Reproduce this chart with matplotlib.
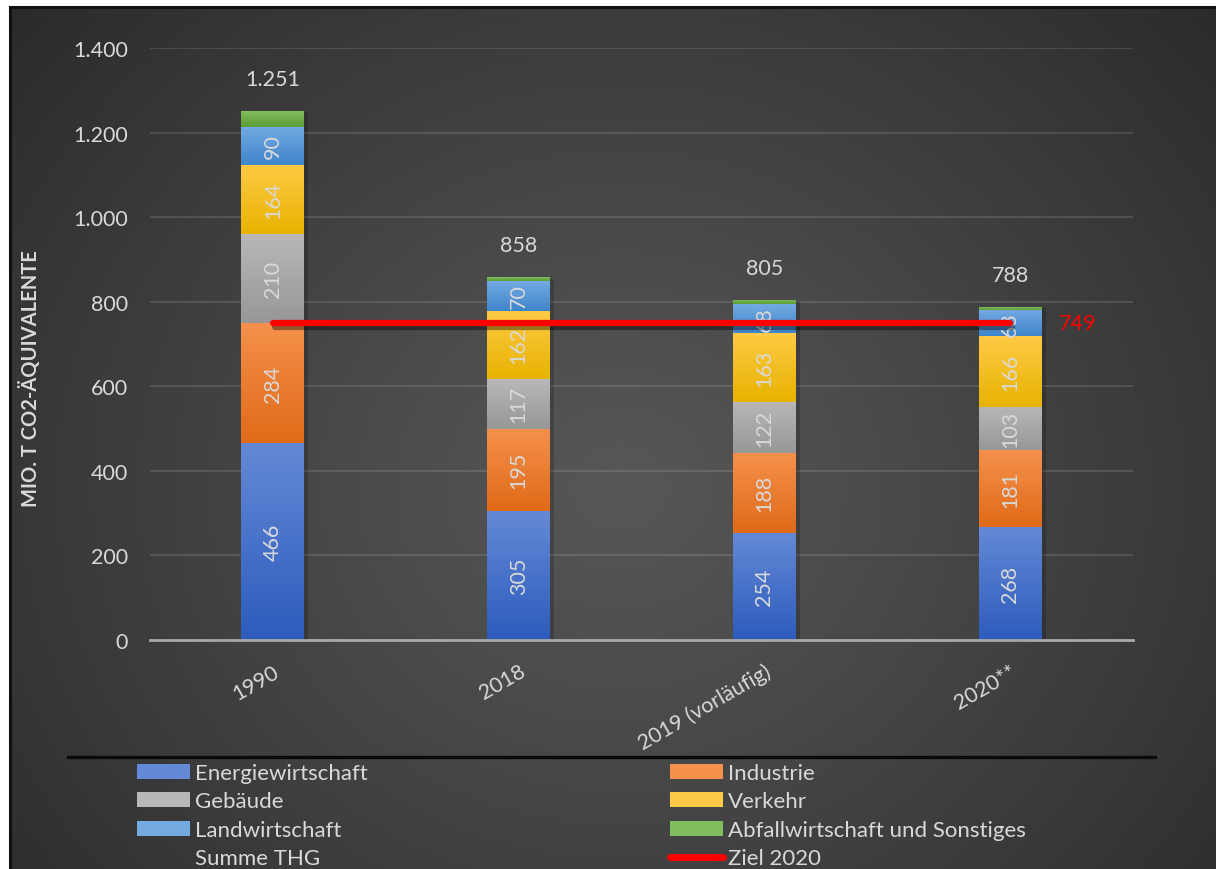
import numpy as np
import matplotlib.pyplot as plt
from matplotlib.colors import LinearSegmentedColormap, to_rgb
from matplotlib.lines import Line2D
from matplotlib.patches import Patch
import matplotlib.patheffects as pe
from matplotlib.ticker import FuncFormatter, MultipleLocator

plt.rcParams['font.family'] = ['Lato', 'DejaVu Sans']

# ---- data (Mio. t CO2-Äquivalente) ----
years = ['1990', '2018', '2019 (vorläufig)', '2020**']
energiewirtschaft = [466, 305, 254, 268]
industrie = [284, 195, 188, 181]
gebaeude = [210, 117, 122, 103]
verkehr = [164, 162, 163, 166]
landwirtschaft = [90, 70, 68, 63]
abfall_sonstiges = [37, 9, 10, 7]
summe_thg = [1251, 858, 805, 788]
ziel_2020 = 749

sector_names = ['Energiewirtschaft', 'Industrie', 'Gebäude', 'Verkehr',
                'Landwirtschaft', 'Abfallwirtschaft und Sonstiges']
sector_values = [energiewirtschaft, industrie, gebaeude, verkehr,
                 landwirtschaft, abfall_sonstiges]
# (top colour, bottom colour) of each segment's vertical gradient
sector_colors = [('#6489d6', '#2d5cbd'),
                 ('#f5914c', '#e06a18'),
                 ('#b8b8b8', '#979797'),
                 ('#ffca45', '#e7b300'),
                 ('#74aae2', '#3f85cb'),
                 ('#80bd5c', '#5c9d37')]
show_segment_label = [True, True, True, True, True, False]

TXT = '#d9d9d9'
FS = 15.5
W, H = 1216, 870
fig = plt.figure(figsize=(W / 100, H / 100), dpi=100, facecolor='white')

# ---- dark radial background panel ----
bg = fig.add_axes([10 / W, 0, 1 - 10 / W, 1 - 8 / H], zorder=-5)
ph, pw = 862, 1206
yy, xx = np.mgrid[0:ph, 0:pw]
r = np.hypot((xx - 610) / 1.0, (yy - 480) / 0.9) / 820
r = np.clip(r, 0, 1) ** 1.1
c_center, c_edge = np.array(to_rgb('#575757')), np.array(to_rgb('#2a2a2a'))
img = c_center[None, None, :] + (c_edge - c_center)[None, None, :] * r[..., None]
bg.imshow(img, extent=[0, 1, 0, 1], origin='upper', aspect='auto')
bg.set_xlim(0, 1)
bg.set_ylim(0, 1)
bg.set_xticks([])
bg.set_yticks([])
for side in ['right', 'bottom']:
    bg.spines[side].set_visible(False)
for side in ['top', 'left']:
    bg.spines[side].set_color('#111111')
    bg.spines[side].set_linewidth(2.2)

# ---- main chart ----
ax = fig.add_axes([150 / W, 1 - 641 / H, 983 / W, (641 - 49) / H])
ax.patch.set_alpha(0)
x = np.arange(len(years))
width = 0.256

# soft drop shadow behind each column
ax.bar(x, summe_thg, width, color='#333333', linewidth=0, zorder=2,
       path_effects=[pe.SimplePatchShadow(offset=(3, -1), shadow_rgbFace='black', alpha=0.18),
                     pe.Normal()])

grad = np.linspace(0, 1, 128).reshape(-1, 1)
bottom = np.zeros(len(years))
for name, vals, (ctop, cbot), lab in zip(sector_names, sector_values,
                                         sector_colors, show_segment_label):
    vals = np.array(vals, dtype=float)
    bars = ax.bar(x, vals, width, bottom=bottom, color=ctop, linewidth=0,
                  zorder=3, label=name)
    cmap = LinearSegmentedColormap.from_list(name, [ctop, cbot])
    for p in bars.patches:
        x0, y0 = p.get_x(), p.get_y()
        im = ax.imshow(grad, cmap=cmap, aspect='auto', origin='upper',
                       extent=[x0, x0 + p.get_width(), y0, y0 + p.get_height()],
                       zorder=3.1, interpolation='bilinear')
        im.set_clip_path(p)
    if lab:
        for xi, b, v in zip(x, bottom, vals):
            ax.text(xi, b + v / 2, f'{int(v)}', rotation=90, ha='center',
                    va='center', color=TXT, fontsize=FS, zorder=5)
    bottom += vals

def de_thousands(v):
    return f'{int(v):,}'.replace(',', '.')

for xi, s in zip(x, summe_thg):
    ax.annotate(de_thousands(s), (xi, s), xytext=(0, 23),
                textcoords='offset points', ha='center', va='center',
                color=TXT, fontsize=FS)

# target line for 2020
ax.plot([x[0], x[-1]], [ziel_2020, ziel_2020], color='red', lw=4.5,
        solid_capstyle='round', zorder=6,
        path_effects=[pe.SimpleLineShadow(offset=(1.5, -2.5), alpha=0.4),
                      pe.Normal()])
ax.annotate(f'{ziel_2020}', (x[-1], ziel_2020), xytext=(35, 0),
            textcoords='offset points', ha='left', va='center',
            color='red', fontsize=FS)

ax.set_xlim(-0.5, len(years) - 0.5)
ax.set_ylim(0, 1400)
ax.yaxis.set_major_locator(MultipleLocator(200))
ax.yaxis.set_major_formatter(FuncFormatter(lambda v, _: de_thousands(v)))
ax.yaxis.grid(True, color='white', alpha=0.12, lw=1.5, zorder=0)
ax.set_axisbelow(True)
for side in ['top', 'right', 'left']:
    ax.spines[side].set_visible(False)
ax.spines['bottom'].set_color('#a8a8a8')
ax.spines['bottom'].set_linewidth(2)
ax.spines['bottom'].set_zorder(4)

ax.tick_params(axis='y', length=0, pad=16, labelsize=FS, labelcolor=TXT)
ax.set_xticks(x)
ax.set_xticklabels(years)
ax.tick_params(axis='x', length=0, pad=15, labelsize=FS, labelcolor=TXT)
for t in ax.get_xticklabels():
    t.set_rotation(30)
    t.set_ha('right')
    t.set_va('top')
    t.set_rotation_mode('anchor')

fig.text(30 / W, 1 - 379 / H, 'MIO. T CO2-ÄQUIVALENTE', rotation=90,
         ha='center', va='center', fontsize=14.5, fontweight='bold', color=TXT)

# separator above the legend
fig.add_artist(Line2D([68 / W, 1155 / W], [1 - 758 / H, 1 - 758 / H],
                      color='#0a0a0a', lw=2.4))

def patch(i):
    return Patch(facecolor=sector_colors[i][0], edgecolor='none')

legend_kw = dict(loc='upper left', frameon=False, fontsize=16, labelcolor=TXT,
                 handlelength=2.4, handleheight=0.65, handletextpad=0.2,
                 labelspacing=0.38, borderpad=0, borderaxespad=0)
fig.legend([patch(0), patch(2), patch(4), Line2D([], [], color='none')],
           [sector_names[0], sector_names[2], sector_names[4], 'Summe THG'],
           bbox_to_anchor=(137 / W, 1 - 764 / H), **legend_kw)
fig.legend([patch(1), patch(3), patch(5),
            Line2D([], [], color='red', lw=5, solid_capstyle='round')],
           [sector_names[1], sector_names[3], sector_names[5], 'Ziel 2020'],
           bbox_to_anchor=(670 / W, 1 - 764 / H), **legend_kw)

fig.savefig('out.png', dpi=100, facecolor='white')
